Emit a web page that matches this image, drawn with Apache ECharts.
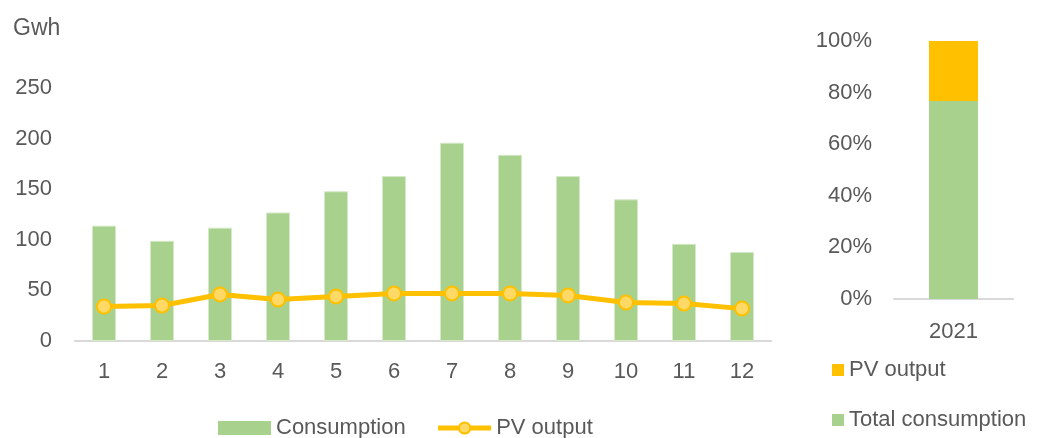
<!DOCTYPE html>
<html>
<head>
<meta charset="utf-8">
<script src="https://cdn.jsdelivr.net/npm/echarts@6/dist/echarts.min.js"></script>
<style>
  html, body { margin: 0; padding: 0; background: #ffffff; }
  #chart { width: 1037px; height: 438px; }
</style>
</head>
<body>
<div id="chart"></div>
<script>
// Monthly electricity consumption and PV output (GWh)
const months = ['1', '2', '3', '4', '5', '6', '7', '8', '9', '10', '11', '12'];
const consumption = [114, 99, 112, 127, 148, 163, 196, 184, 163, 140, 96, 88];
const pvOutput = [34, 35, 46, 41, 44, 47, 47, 47, 45, 38, 37, 32];

// Annual split (percent of the 2021 total)
const years = ['2021'];
const totalConsumptionShare = [76.7];
const pvShare = [23.3];

const leftTicks = { min: 0, max: 250, interval: 50 };
const rightTicks = { min: 0, max: 100, interval: 20 };

const FONT = 'Liberation Sans';
const TEXT = '#595959';
const GREEN = '#A9D18E';
const ORANGE = '#FFC000';
const MARKER = '#FFD966';
const AXIS = '#D9D9D9';

const legendText = { fontFamily: FONT, fontSize: 22, color: TEXT };

const chart = echarts.init(document.getElementById('chart'), null, { renderer: 'canvas' });

chart.setOption({
  animation: false,
  textStyle: { fontFamily: FONT, color: TEXT },
  title: {
    text: 'Gwh',
    left: 8,
    top: 12,
    textStyle: { fontFamily: FONT, fontSize: 23, fontWeight: 'normal', color: TEXT }
  },
  grid: [
    { left: 75, right: 266, top: 88, bottom: 97 },
    { left: 894, width: 119, top: 41, bottom: 139 }
  ],
  xAxis: [
    {
      type: 'category', gridIndex: 0, data: months,
      axisLine: { lineStyle: { color: AXIS, width: 2 } },
      axisTick: { show: false },
      axisLabel: { fontFamily: FONT, fontSize: 22, color: TEXT, margin: 20 }
    },
    {
      type: 'category', gridIndex: 1, data: years,
      axisLine: { lineStyle: { color: AXIS, width: 2 } },
      axisTick: { show: false },
      axisLabel: { fontFamily: FONT, fontSize: 22, color: TEXT, margin: 22 }
    }
  ],
  yAxis: [
    {
      type: 'value', gridIndex: 0,
      min: leftTicks.min, max: leftTicks.max, interval: leftTicks.interval,
      axisLine: { show: false }, axisTick: { show: false },
      splitLine: { show: false },
      axisLabel: { fontFamily: FONT, fontSize: 22, color: TEXT, margin: 23 }
    },
    {
      type: 'value', gridIndex: 1,
      min: rightTicks.min, max: rightTicks.max, interval: rightTicks.interval,
      axisLine: { show: false }, axisTick: { show: false },
      splitLine: { show: false },
      axisLabel: { fontFamily: FONT, fontSize: 22, color: TEXT, margin: 22, formatter: '{value}%' }
    }
  ],
  legend: [
    {
      data: [
        { name: 'Consumption', icon: 'rect', itemStyle: { color: GREEN, borderWidth: 0 } },
        {
          name: 'PV output',
          lineStyle: { color: ORANGE, width: 5 },
          itemStyle: { color: MARKER, borderColor: ORANGE, borderWidth: 2 }
        }
      ],
      left: 213, top: 412,
      selectedMode: false,
      itemGap: 30,
      itemWidth: 53, itemHeight: 14,
      textStyle: legendText
    },
    {
      data: [{ name: 'PV share', icon: 'rect', itemStyle: { color: ORANGE } }],
      left: 827, top: 354,
      selectedMode: false,
      itemWidth: 12, itemHeight: 12,
      formatter: function () { return 'PV output'; },
      textStyle: legendText
    },
    {
      data: [{ name: 'Total consumption', icon: 'rect', itemStyle: { color: GREEN } }],
      left: 827, top: 404,
      selectedMode: false,
      itemWidth: 12, itemHeight: 12,
      textStyle: legendText
    }
  ],
  series: [
    {
      name: 'Consumption', type: 'bar', xAxisIndex: 0, yAxisIndex: 0,
      data: consumption, barWidth: 24,
      itemStyle: { color: GREEN, borderColor: '#D5E8C8', borderWidth: 1 }
    },
    {
      name: 'PV output', type: 'line', xAxisIndex: 0, yAxisIndex: 0,
      data: pvOutput,
      symbol: 'circle', symbolSize: 14,
      lineStyle: { color: ORANGE, width: 5 },
      itemStyle: { color: MARKER, borderColor: ORANGE, borderWidth: 2 },
      z: 5
    },
    {
      name: 'Total consumption', type: 'bar', xAxisIndex: 1, yAxisIndex: 1,
      stack: 'share', data: totalConsumptionShare, barWidth: 49,
      itemStyle: { color: GREEN }
    },
    {
      name: 'PV share', type: 'bar', xAxisIndex: 1, yAxisIndex: 1,
      stack: 'share', data: pvShare, barWidth: 49,
      itemStyle: { color: ORANGE }
    }
  ]
});
</script>
</body>
</html>
